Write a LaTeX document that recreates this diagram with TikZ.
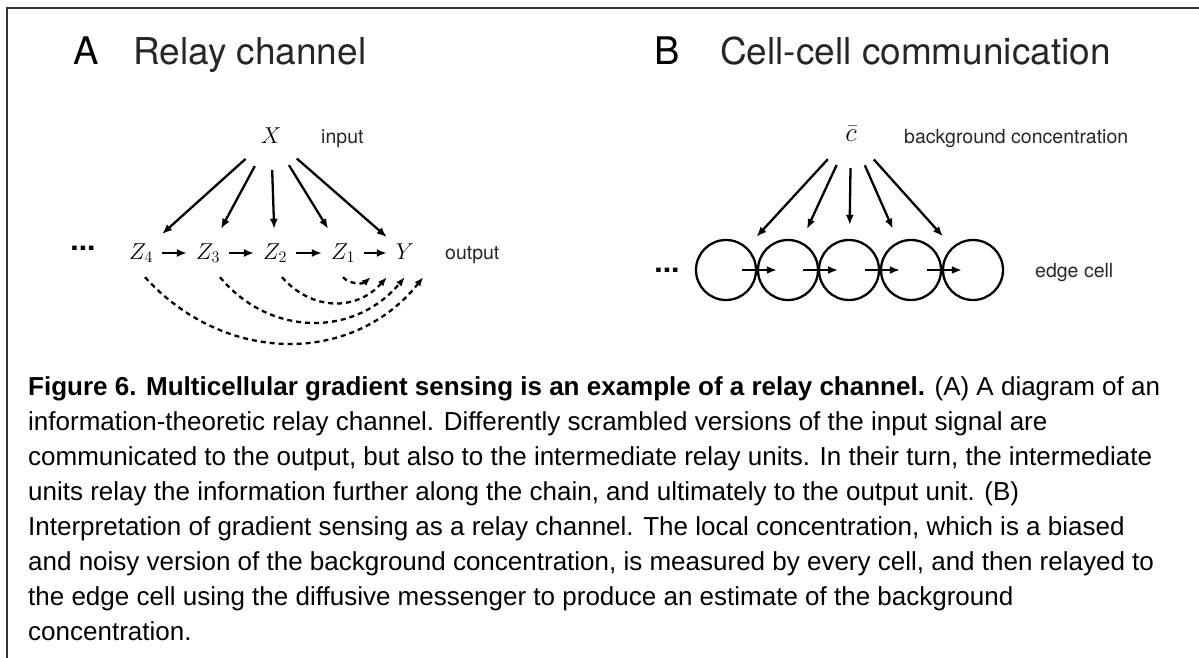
\RequirePackage{fix-cm}
\documentclass[tikz,border=0pt]{standalone}
\usepackage[no-math]{fontspec}
\usepackage{tikz}
\usetikzlibrary{arrows.meta,calc}
\newfontfamily\helv{TeX Gyre Heros}
\newfontfamily\arial{Liberation Sans}

\begin{document}
\begin{tikzpicture}[x=1pt, y=-1pt,
    arr/.style={line width=2.3pt, -{Latex[length=10pt,width=8pt]}},
    dasharr/.style={line width=2.3pt, dash pattern=on 5pt off 4pt, -{Latex[length=9pt,width=7pt]}},
    letter/.style={font=\helv\fontsize{38}{44}\selectfont, anchor=base west, inner sep=0pt},
    heading/.style={font=\helv\fontsize{37}{44}\selectfont, anchor=base west, inner sep=0pt, text=black!85},
    lbl/.style={font=\helv\fontsize{19.5}{22}\selectfont, anchor=base west, inner sep=0pt, text=black!85},
    sym/.style={font=\fontsize{23}{26}\selectfont, text height=16pt, text depth=4pt, inner xsep=9pt, inner ysep=14pt},
    src/.style={circle, minimum size=68pt, inner sep=0pt, font=\fontsize{23}{26}\selectfont},
    cell/.style={circle, draw, line width=2.3pt, minimum size=60pt, inner sep=0pt},
    dots/.style={font=\helv\bfseries\fontsize{30}{32}\selectfont, anchor=base, inner sep=0pt},
    captxt/.style={font=\arial\fontsize{26}{35}\selectfont, anchor=base west, inner sep=0pt}]
    \useasboundingbox (0,0) rectangle (1199,658);
    \draw[line width=2pt, black!80] (7,658) -- (7,8) -- (1199,8);

    % panel headings
    \node[letter] (lblA) at (73,65) {A};
    \node[heading] (ttlA) at (133,65) {Relay channel};
    \node[letter] (lblB) at (654,65) {B};
    \node[heading] (ttlB) at (720,65) {Cell-cell communication};

    % A: relay channel
    \node[src] (x) at (271,136) {$X$};
    \node[lbl] (inp) at (321,143) {input};
    \node[dots] (dotsA) at (83,250) {...};
    \node[sym] (z4) at (141,253) {$Z_4$};
    \node[sym] (z3) at (208,253) {$Z_3$};
    \node[sym] (z2) at (275,253) {$Z_2$};
    \node[sym] (z1) at (343,253) {$Z_1$};
    \node[sym] (y) at (405,253) {$Y$};
    \node[lbl] (outp) at (445,259) {output};
    \foreach \t in {z4,z3,z2,z1,y}
        \draw[arr] (x) -- (\t);
    \foreach \a/\b in {z4/z3,z3/z2,z2/z1,z1/y}
        \draw[arr] (\a) -- (\b);
    \draw[dasharr] (z1.south) .. controls +(6,7) and +(-8,7) .. ([xshift=-16pt]y.south west);
    \draw[dasharr] ([xshift=7pt]z2.south) .. controls +(30,34) and +(-30,34) .. (y.south west);
    \draw[dasharr] ([xshift=12pt]z3.south) .. controls +(50,60) and +(-50,60) .. ([xshift=18pt]y.south west);
    \draw[dasharr] ([xshift=4pt]z4.south) .. controls +(80,88) and +(-70,88) .. (y.south east);

    % B: cells
    \node[src, font=\fontsize{27}{30}\selectfont] (cbar) at (851,134) {$\bar{c}$};
    \node[lbl] (bgc) at (904,143) {background concentration};
    \node[dots] (dotsB) at (667,272) {...};
    \foreach \i/\cx in {1/726,2/788,3/849,4/911,5/973}
        \node[cell] (c\i) at (\cx,270) {};
    \node[lbl] (edge) at (1035,277) {edge cell};
    \foreach \i in {1,...,5}
        \draw[arr, shorten >=14pt] (cbar) -- (c\i);
    \foreach \i [evaluate=\i as \j using int(\i+1)] in {1,...,4}
        \draw[arr] ($(c\i)!.25!(c\j)$) -- ($(c\i)!.82!(c\j)$);

    % caption
    \foreach \ln [count=\i from 0] in {%
        {\textbf{Figure 6. Multicellular gradient sensing is an example of a relay channel.} (A) A diagram of an},
        {information-theoretic relay channel. Differently scrambled versions of the input signal are},
        {communicated to the output, but also to the intermediate relay units. In their turn, the intermediate},
        {units relay the information further along the chain, and ultimately to the output unit. (B)},
        {Interpretation of gradient sensing as a relay channel. The local concentration, which is a biased},
        {and noisy version of the background concentration, is measured by every cell, and then relayed to},
        {the edge cell using the diffusive messenger to produce an estimate of the background},
        {concentration.}}
        \node[captxt] (cap\i) at (28,{395+35*\i}) {\ln};
\end{tikzpicture}
\end{document}
